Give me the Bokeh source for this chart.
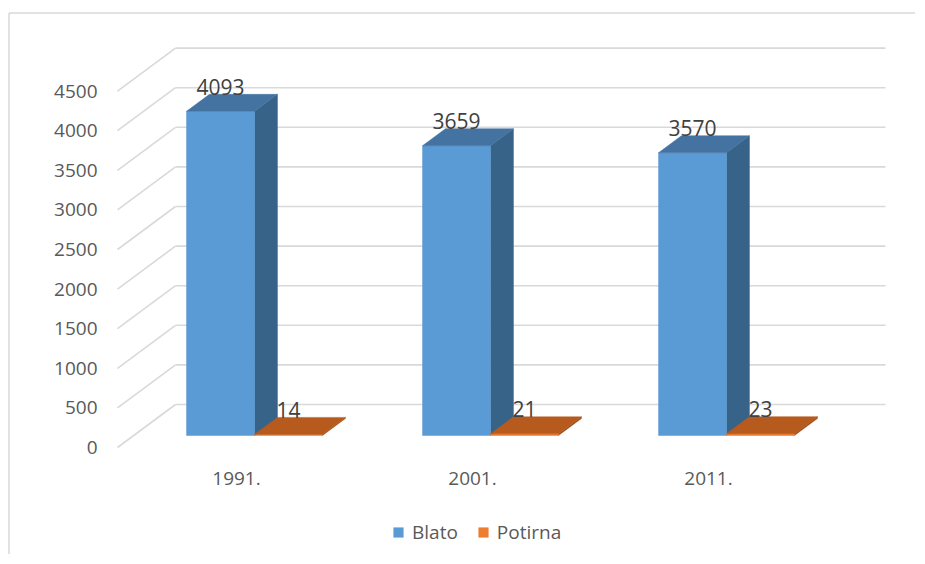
from bokeh.plotting import figure
from bokeh.models import Range1d, Legend, LegendItem
from bokeh.core.properties import value
from bokeh.embed import file_html
from bokeh.resources import INLINE

# ---- data ----
categories = ["1991.", "2001.", "2011."]
blato = [4093, 3659, 3570]
potirna = [14, 21, 23]
y_ticks = [0, 500, 1000, 1500, 2000, 2500, 3000, 3500, 4000, 4500]
series_names = ["Blato", "Potirna"]

# ---- geometry (chart units) ----
PX_X = 236.0      # pixels per category unit
PX_Y = 0.0792     # pixels per value unit
W_PX, H_PX = 915, 554

x0_px = 254.0   # x data 0 in frame pixels
y0_px = 447.0   # y data 0 (front plane) in frame pixels (from top)

x_start = -x0_px / PX_X
x_end = (W_PX - x0_px) / PX_X
y_end = y0_px / PX_Y
y_start = -(H_PX - y0_px) / PX_Y

DX = 58 / PX_X          # wall depth in x units
DY = 43 / PX_Y          # wall depth in value units
WALL_LEFT = (117 - x0_px) / PX_X
WALL_RIGHT = (885 - x0_px) / PX_X
F1, F2 = 12 / 43, 29 / 43   # bar depth fractions
BW = 0.288                 # bar width (category units)

p = figure(width=W_PX, height=H_PX, output_backend="svg", toolbar_location=None,
           x_range=Range1d(x_start, x_end), y_range=Range1d(y_start, y_end),
           x_axis_location=None, y_axis_location=None,
           min_border=0, outline_line_color=None)
p.xgrid.visible = False
p.ygrid.visible = False
p.background_fill_color = None
p.border_fill_color = None

GRID = "#d9d9d9"

# chart border (left and top)
top_v = (y0_px - 12.5) / PX_Y
left_x = (8.5 - x0_px) / PX_X
p.segment(x0=[left_x, left_x], y0=[top_v, top_v], x1=[left_x, x_end + 1], y1=[y_start - 100, top_v],
          line_color=GRID, line_width=1.5)

# back wall gridlines and side wall diagonals
p.segment(x0=[WALL_LEFT + DX] * len(y_ticks), y0=[t + DY for t in y_ticks],
          x1=[WALL_RIGHT] * len(y_ticks), y1=[t + DY for t in y_ticks],
          line_color=GRID, line_width=1.6)
p.segment(x0=[WALL_LEFT] * len(y_ticks), y0=y_ticks,
          x1=[WALL_LEFT + DX] * len(y_ticks), y1=[t + DY for t in y_ticks],
          line_color=GRID, line_width=1.6)


def bar3d(vals, offset, front, top, side):
    ddx = (F2 - F1) * DX
    ddy = (F2 - F1) * DY
    fl, fr, fb, ft = [], [], [], []
    tops_x, tops_y, sides_x, sides_y = [], [], [], []
    for i, v in enumerate(vals):
        xa = i + offset
        xb = xa + BW
        yb = F1 * DY
        yt = yb + v
        fl.append(xa); fr.append(xb); fb.append(yb); ft.append(yt)
        tops_x.append([xa, xb, xb + ddx, xa + ddx])
        tops_y.append([yt, yt, yt + ddy, yt + ddy])
        sides_x.append([xb, xb, xb + ddx, xb + ddx])
        sides_y.append([yb, yt, yt + ddy, yb + ddy])
    p.patches(sides_x, sides_y, fill_color=side, line_color=side, line_width=0.5)
    r = p.quad(left=fl, right=fr, bottom=fb, top=ft, fill_color=front, line_color=front, line_width=0.5)
    p.patches(tops_x, tops_y, fill_color=top, line_color=top, line_width=0.5)
    return r


r_blato = bar3d(blato, -BW, "#5b9bd5", "#4473a2", "#386389")
r_pot = bar3d(potirna, 0.0, "#ed7d31", "#b65a1e", "#9c4c18")

# data labels (centred just above the back top edge of each bar)
LBL_UP = 7.5 / PX_Y
p.text(x=[i - BW / 2 for i in range(3)], y=[v + F2 * DY + LBL_UP for v in blato],
       text=[str(v) for v in blato], text_font=value("Open Sans"), text_font_size="21px",
       text_align="center", text_baseline="middle", text_color="#404040")
p.text(x=[i + BW / 2 for i in range(3)], y=[v + F2 * DY + LBL_UP for v in potirna],
       text=[str(v) for v in potirna], text_font=value("Open Sans"), text_font_size="21px",
       text_align="center", text_baseline="middle", text_color="#404040")

# value axis labels (front plane)
p.text(x=[(97 - x0_px) / PX_X] * len(y_ticks), y=y_ticks, text=[str(t) for t in y_ticks],
       text_font=value("Open Sans"), text_font_size="19px", text_align="right",
       text_baseline="middle", text_color="#595959")

# category labels
p.text(x=[i - 18 / PX_X for i in range(3)], y=[(y0_px - 477.5) / PX_Y] * 3, text=categories,
       text_font=value("Open Sans"), text_font_size="19px", text_align="center",
       text_baseline="middle", text_color="#595959")

legend = Legend(items=[LegendItem(label=series_names[0], renderers=[r_blato]),
                       LegendItem(label=series_names[1], renderers=[r_pot])],
                location=(392, 9), orientation="horizontal", margin=0, padding=0,
                spacing=19, glyph_width=12, glyph_height=12, label_standoff=8,
                label_text_font="Open Sans", label_text_font_size="19px",
                label_text_color="#595959", label_height=20,
                border_line_color=None, background_fill_alpha=0)
p.add_layout(legend)

open("out.html", "w").write(file_html(p, INLINE))
